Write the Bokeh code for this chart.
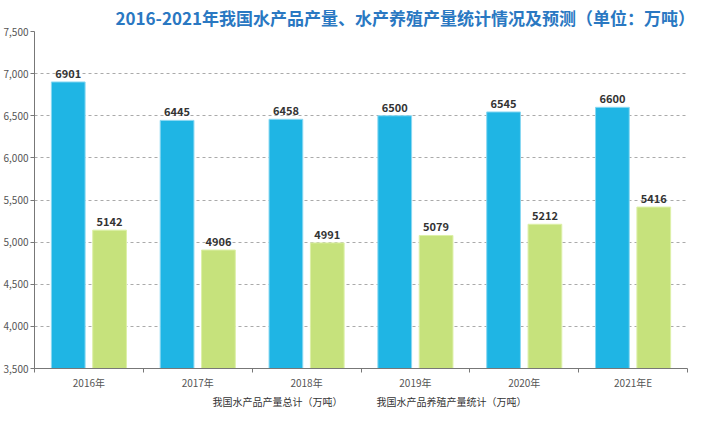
from bokeh.plotting import figure
from bokeh.layouts import column
from bokeh.models import ColumnDataSource, FixedTicker, NumeralTickFormatter, Legend, LegendItem, Range1d, Title
from bokeh.core.properties import value
from bokeh.embed import file_html
from bokeh.resources import INLINE

categories = ["2016年", "2017年", "2018年", "2019年", "2020年", "2021年E"]
total_output = [6901, 6445, 6458, 6500, 6545, 6600]
aquaculture_output = [5142, 4906, 4991, 5079, 5212, 5416]
y_ticks = [3500, 4000, 4500, 5000, 5500, 6000, 6500, 7000, 7500]
series_names = ["我国水产品产量总计（万吨）", "我国水产品养殖产量统计（万吨）"]

FONT = "Noto Sans CJK SC"
BLUE = "#1FB5E4"
GREEN = "#C6E27C"

idx = list(range(len(categories)))
centers = [i + 0.5 for i in idx]
src = ColumnDataSource(dict(
    xb=[c - 0.19 for c in centers],
    xg=[c + 0.19 for c in centers],
    total=total_output,
    aqua=aquaculture_output,
    total_lbl=[str(v) for v in total_output],
    aqua_lbl=[str(v) for v in aquaculture_output],
))

p = figure(width=704, height=392, output_backend="svg", toolbar_location=None,
           x_range=Range1d(0, len(categories)), y_range=Range1d(3500, 7500),
           min_border_left=30, min_border_right=17, min_border_top=26, min_border_bottom=20)
p.outline_line_color = None
p.background_fill_color = "white"

t = Title(text="2016-2021年我国水产品产量、水产养殖产量统计情况及预测（单位：万吨）",
          text_font=FONT, text_font_size="17px", text_font_style="bold",
          text_color="#2A78C2", align="left", offset=81, standoff=4, text_line_height=1.0)
p.add_layout(t, "above")

rb = p.vbar(x="xb", top="total", bottom=3500, width=0.31, source=src,
            fill_color=BLUE, line_color="#8AD8F2", line_width=1)
rg = p.vbar(x="xg", top="aqua", bottom=3500, width=0.31, source=src,
            fill_color=GREEN, line_color="#DDF0A8", line_width=1)

for xcol, ycol, lcol in [("xb", "total", "total_lbl"), ("xg", "aqua", "aqua_lbl")]:
    p.text(x=xcol, y=ycol, text=lcol, source=src, text_align="center",
           text_baseline="bottom", y_offset=-4, text_font=value(FONT),
           text_font_size="11px", text_font_style="bold", text_color="#333333")

# y axis
p.yaxis.ticker = FixedTicker(ticks=y_ticks)
p.yaxis.formatter = NumeralTickFormatter(format="0,0")
p.yaxis.major_label_text_font = FONT
p.yaxis.major_label_text_font_size = "10px"
p.yaxis.major_label_text_color = "#555555"
p.yaxis.axis_line_color = "#777777"
p.yaxis.major_tick_line_color = "#777777"
p.yaxis.major_tick_out = 4
p.yaxis.major_tick_in = 0
p.yaxis.minor_tick_line_color = None
p.yaxis.major_label_standoff = 2

# x axis
p.xaxis.ticker = FixedTicker(ticks=centers, minor_ticks=[float(i) for i in range(len(categories) + 1)])
p.xaxis.major_label_overrides = {c: categories[i] for i, c in enumerate(centers)}
p.xaxis.major_label_text_font = FONT
p.xaxis.major_label_text_font_size = "10px"
p.xaxis.major_label_text_color = "#555555"
p.xaxis.axis_line_color = "#777777"
p.xaxis.major_tick_line_color = None
p.xaxis.major_tick_out = 0
p.xaxis.major_tick_in = 0
p.xaxis.minor_tick_line_color = "#777777"
p.xaxis.minor_tick_out = 4
p.xaxis.minor_tick_in = 0
p.xaxis.major_label_standoff = 2

p.xgrid.grid_line_color = None
p.ygrid.ticker = FixedTicker(ticks=y_ticks[1:])
p.ygrid.grid_line_color = "#AAAAAA"
p.ygrid.grid_line_dash = "3 3"
p.ygrid.grid_line_width = 1

# separate strip holding the legend, below the chart
lf = figure(width=704, height=18, output_backend="svg", toolbar_location=None,
            x_range=Range1d(0, 1), y_range=Range1d(0, 1), min_border=0)
lf.axis.visible = False
lf.grid.grid_line_color = None
lf.outline_line_color = None
empty = ColumnDataSource(dict(x=[], top=[]))
lb = lf.vbar(x="x", top="top", width=0.1, source=empty, fill_color=BLUE, line_color="#8AD8F2")
lg = lf.vbar(x="x", top="top", width=0.1, source=empty, fill_color=GREEN, line_color="#DDF0A8")

legend = Legend(items=[LegendItem(label=series_names[0], renderers=[lb]),
                       LegendItem(label=series_names[1], renderers=[lg])],
                orientation="horizontal", location="center",
                label_text_font=FONT, label_text_font_size="10px", label_text_color="#333333",
                glyph_width=14, glyph_height=8, label_standoff=4, spacing=16,
                label_height=12,
                padding=0, margin=0, border_line_color=None, background_fill_alpha=0)
lf.add_layout(legend, "center")

layout = column(p, lf, spacing=0)
open("out.html", "w").write(file_html(layout, INLINE))
